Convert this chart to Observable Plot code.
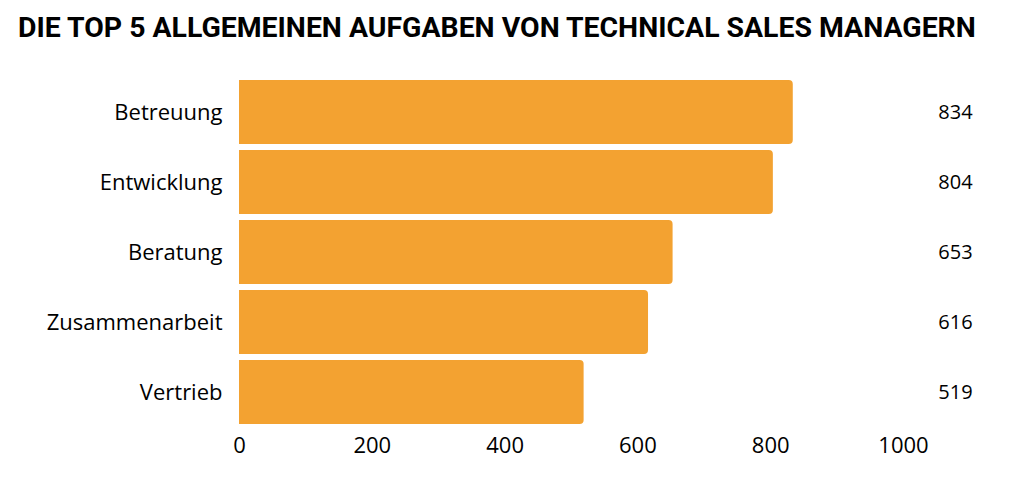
<!DOCTYPE html>
<html>
<head>
<meta charset="utf-8">
<script src="https://cdn.jsdelivr.net/npm/d3@7"></script>
<script src="https://cdn.jsdelivr.net/npm/@observablehq/plot@0.6"></script>
<style>
  html, body { margin: 0; padding: 0; background: #fff; }
  #title { height: 52px; line-height: 55px; font-family: Roboto, sans-serif; font-weight: 700; font-size: 28.4px; color: #000; padding-left: 18px; white-space: nowrap; overflow: hidden; }
  #chart svg { display: block; }
</style>
</head>
<body>
<div id="title">DIE TOP 5 ALLGEMEINEN AUFGABEN VON TECHNICAL SALES MANAGERN</div>
<div id="chart"></div>
<script>
const categories = ["Betreuung", "Entwicklung", "Beratung", "Zusammenarbeit", "Vertrieb"];
const values = [834, 804, 653, 616, 519];
const xTicks = [0, 200, 400, 600, 800, 1000];

const data = categories.map((c, i) => ({name: c, value: values[i]}));

const chart = Plot.plot({
  width: 1014,
  height: 437,
  marginLeft: 239,
  marginRight: 111,
  marginTop: 27,
  marginBottom: 64,
  style: {fontFamily: "'Open Sans', sans-serif", fontSize: "22px", color: "#000", background: "#fff"},
  x: {domain: [0, 1000], ticks: xTicks, tickFormat: d => String(d), tickSize: 0, tickPadding: 12, label: null, axis: "bottom"},
  y: {domain: categories, paddingInner: 0.092, paddingOuter: 0, tickSize: 0, tickPadding: 17, label: null},
  marks: [
    Plot.barX(data, {x: "value", y: "name", fill: "#F3A231", rx2: 4}),
    Plot.text(data, {y: "name", text: d => String(d.value), frameAnchor: "right", textAnchor: "middle", dx: 52, fontSize: 20, fill: "#000"})
  ]
});
document.getElementById("chart").appendChild(chart);
</script>
</body>
</html>
